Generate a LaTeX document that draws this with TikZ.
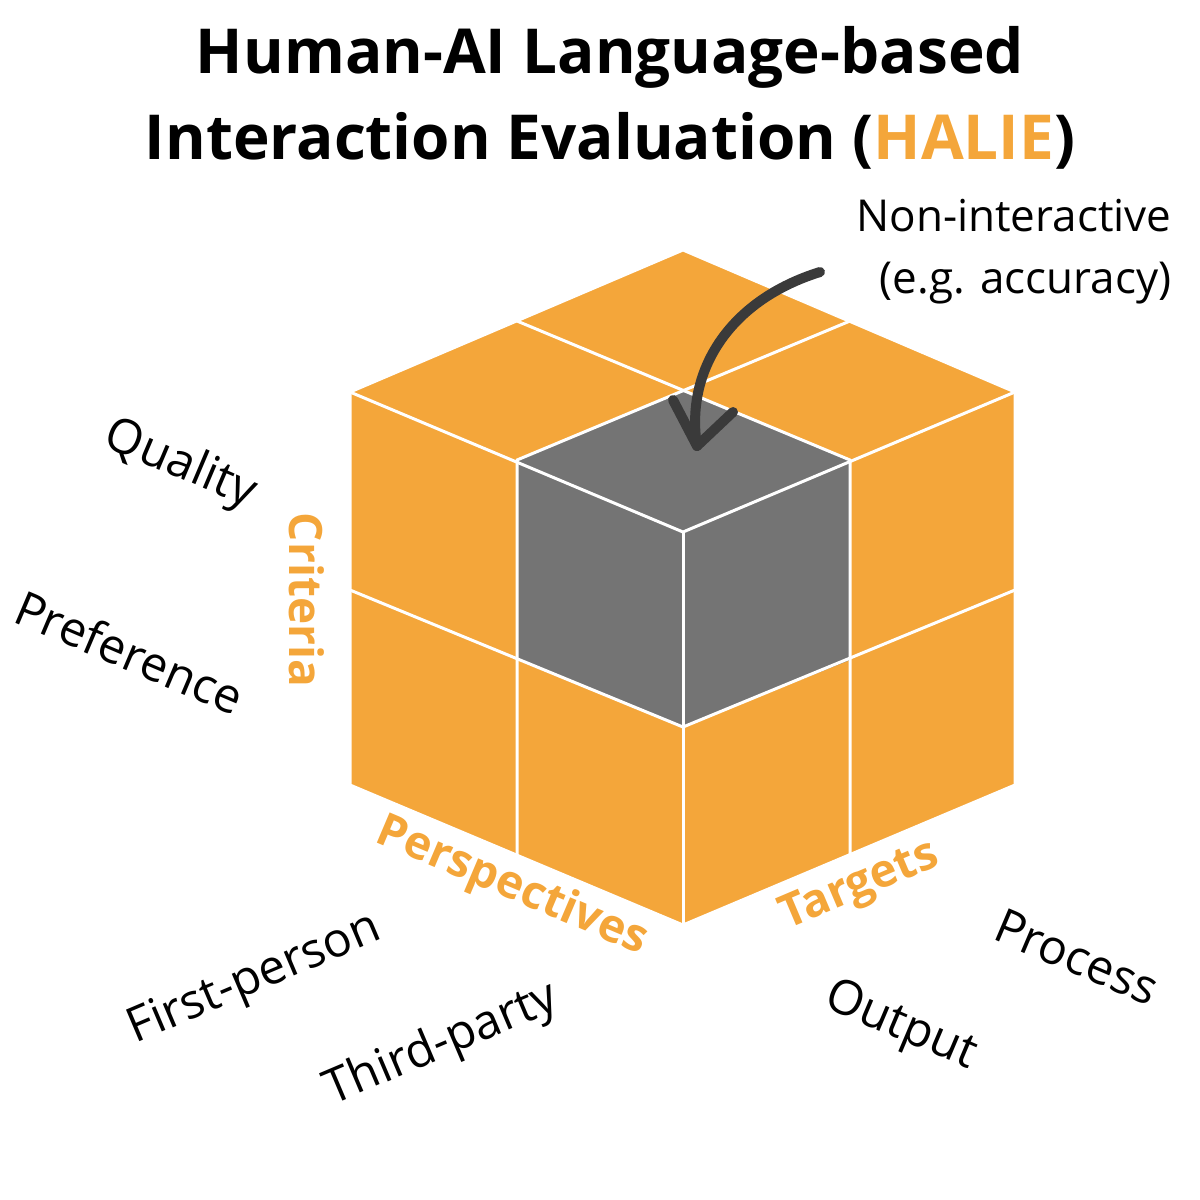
\documentclass[tikz,border=0pt]{standalone}
\usepackage{fontspec}
\setmainfont{Open Sans}
\definecolor{org}{HTML}{F4A63A}
\definecolor{gry}{HTML}{747474}
\definecolor{arr}{HTML}{3A3A3A}
\tikzset{face/.style={draw=white,line width=3pt,line join=round},
lbl/.style={font=\fontsize{48}{54}\selectfont},
olbl/.style={font=\fontsize{46}{54}\selectfont\bfseries,text=org},
arrline/.style={draw=arr,line width=10pt,line cap=round,line join=round}}
\begin{document}
\begin{tikzpicture}[x=1pt,y=-1pt]
\useasboundingbox (0,0) rectangle (1200,1200);
\fill[org] (350,392)--(683,250)--(1015,392)--(1015,785)--(683,925)--(350,785)--cycle;
\fill[gry] (683,391)--(850,460)--(850,660)--(683,727)--(517,660)--(517,460)--cycle;
\draw[face] (350,392)--(683,250)--(1015,392)--(1015,785)--(683,925)--(350,785)--cycle;
\draw[face] (350,392)--(683,532)--(1015,392);
\draw[face] (683,532)--(683,925);
\draw[face] (517,321)--(850,460)--(850,855);
\draw[face] (850,321)--(517,460)--(517,855);
\draw[face] (350,590)--(683,727)--(1015,590);
\node[font=\fontsize{62}{86}\selectfont\bfseries,align=center] (title) at (610,98)
 {Human-AI Language-based\\Interaction Evaluation (\textcolor{org}{HALIE})};
\node[font=\fontsize{44}{62}\selectfont,align=right,anchor=east] (ni) at (1175,252) {Non-interactive\\(e.g. accuracy)};
\coordinate (as) at (820,272);
\coordinate (ae) at (697,446);
\draw[arrline] (as) .. controls (730,300) and (685,370) .. (ae);
\draw[arrline] (673,400) -- (ae) -- (733,412);
\node[lbl,rotate=-23] (q) at (180,465) {Quality};
\node[lbl,rotate=-23] (p) at (130,652) {Preference};
\node[olbl,rotate=-90] (c) at (307,600) {Criteria};
\node[olbl,rotate=-23] (ps) at (512,887) {Perspectives};
\node[olbl,rotate=23] (t) at (860,887) {Targets};
\node[lbl,rotate=23] (fp) at (255,980) {First-person};
\node[lbl,rotate=23] (tp) at (442,1045) {Third-party};
\node[lbl,rotate=-23] (pr) at (1077,957) {Process};
\node[lbl,rotate=-23] (o) at (900,1027) {Output};
\end{tikzpicture}
\end{document}
